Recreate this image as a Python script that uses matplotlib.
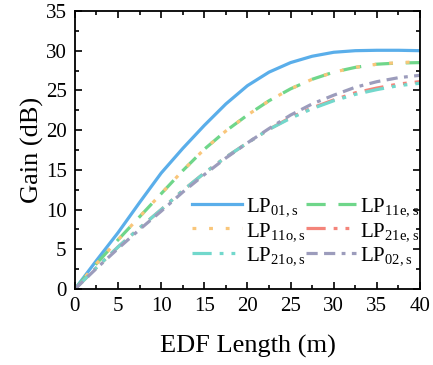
import matplotlib.pyplot as plt
import numpy as np

plt.rcParams['font.family'] = ['Liberation Serif', 'DejaVu Serif']
plt.rcParams['mathtext.default'] = 'regular'

# EDF length (m) and gain (dB) per mode
length = [0, 2.5, 5, 7.5, 10, 12.5, 15, 17.5, 20, 22.5, 25, 27.5, 30, 32.5, 35, 37.5, 40]
lp01 = [0, 3.6, 7.1, 10.9, 14.6, 17.7, 20.6, 23.3, 25.6, 27.3, 28.5, 29.3, 29.8, 30.0, 30.05, 30.05, 30.0]
lp11e = [0, 3.2, 6.2, 9.1, 12.0, 14.9, 17.6, 19.9, 21.9, 23.7, 25.2, 26.4, 27.3, 27.9, 28.3, 28.45, 28.5]
lp11o = [0, 3.2, 6.2, 9.1, 12.0, 14.9, 17.6, 19.9, 21.9, 23.7, 25.2, 26.4, 27.3, 27.9, 28.3, 28.5, 28.6]
lp21e = [0, 2.7, 5.3, 7.7, 10.0, 12.4, 14.6, 16.6, 18.4, 20.1, 21.6, 22.8, 23.8, 24.7, 25.3, 25.8, 26.1]
lp21o = [0, 2.7, 5.3, 7.7, 10.0, 12.4, 14.6, 16.6, 18.4, 20.1, 21.5, 22.7, 23.7, 24.5, 25.1, 25.6, 25.9]
lp02 = [0, 2.6, 5.1, 7.5, 9.8, 12.2, 14.4, 16.5, 18.4, 20.2, 21.9, 23.3, 24.4, 25.4, 26.1, 26.6, 26.9]

labels = [r'LP$_{01,s}$', r'LP$_{11e,s}$', r'LP$_{11o,s}$',
          r'LP$_{21e,s}$', r'LP$_{21o,s}$', r'LP$_{02,s}$']
colors = ['#5aaeea', '#6fd68a', '#f9c67a', '#f4847a', '#72d8cc', '#9c9cbc']
styles = ['-', (0, (6, 4)), (0, (1.2, 4)), (0, (6, 2.5, 1.2, 2.5, 1.2, 2.5)),
          (0, (6, 2.5, 1.2, 2.5, 1.2, 2.5)), (0, (3.5, 2, 3.5, 2, 1.2, 2))]
series = [lp01, lp11e, lp11o, lp21e, lp21o, lp02]

fig = plt.figure(figsize=(4.33, 3.65), dpi=100)
ax = fig.add_axes([0.173, 0.208, 0.797, 0.762])

lines = []
for y, c, ls, lab in zip(series, colors, styles, labels):
    ln, = ax.plot(length, y, color=c, linestyle=ls, linewidth=2.3, label=lab)
    lines.append(ln)

ax.set_xlim(0, 40)
ax.set_ylim(0, 35)
ax.set_xticks(np.arange(0, 41, 5))
ax.set_yticks(np.arange(0, 36, 5))
ax.set_xticks(np.arange(2.5, 40, 5), minor=True)
ax.set_yticks(np.arange(2.5, 35, 5), minor=True)
ax.tick_params(which='both', direction='in', top=True, right=True, width=1.2)
ax.tick_params(which='major', length=5, labelsize=15, pad=6)
ax.tick_params(which='minor', length=3)
for s in ax.spines.values():
    s.set_linewidth(1.3)

ax.set_xlabel('EDF Length (m)', fontsize=19, labelpad=13)
ax.set_ylabel('Gain (dB)', fontsize=19, labelpad=1)

# legend filled row by row
order = [0, 2, 4, 1, 3, 5]
ax.legend([lines[i] for i in order], [labels[i] for i in order],
          ncol=2, loc='lower right', bbox_to_anchor=(1.035, 0.035), frameon=False,
          fontsize=15, handlelength=2.4, handletextpad=0.2, columnspacing=0.0,
          labelspacing=0.12, borderaxespad=0.2)

fig.savefig('out.png', dpi=100)
